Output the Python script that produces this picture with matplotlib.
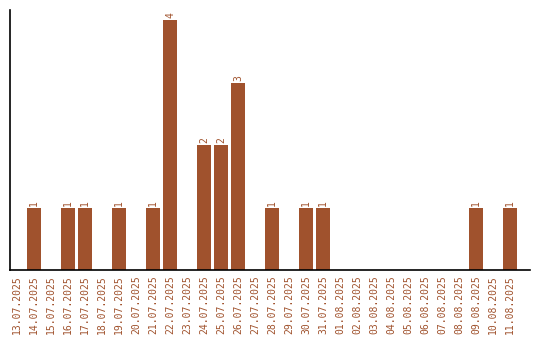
import matplotlib
matplotlib.use("Agg")
import matplotlib.pyplot as plt

dates = ["13.07.2025","14.07.2025","15.07.2025","16.07.2025","17.07.2025","18.07.2025",
         "19.07.2025","20.07.2025","21.07.2025","22.07.2025","23.07.2025","24.07.2025",
         "25.07.2025","26.07.2025","27.07.2025","28.07.2025","29.07.2025","30.07.2025",
         "31.07.2025","01.08.2025","02.08.2025","03.08.2025","04.08.2025","05.08.2025",
         "06.08.2025","07.08.2025","08.08.2025","09.08.2025","10.08.2025","11.08.2025"]
counts = [0,1,0,1,1,0,1,0,1,4,0,2,2,3,0,1,0,1,1,0,0,0,0,0,0,0,0,1,0,1]

color = "#A0522D"
fig = plt.figure(figsize=(5.4, 3.4), dpi=100)
ax = fig.add_axes([10/540, 70/340, 520/540, 260/340])
x = list(range(len(dates)))
bars = ax.bar(x, counts, width=14/17, color=color)
for xi, c in zip(x, counts):
    if c > 0:
        ax.text(xi, c + 0.03, str(c), rotation=90, ha="center", va="bottom",
                color=color, fontsize=7, family="DejaVu Sans Mono")
ax.set_xlim(-7/17 - 0.0, (530 - 17) / 17)
ax.set_ylim(0, 260 / 62.5)
ax.set_xticks(x)
ax.set_xticklabels(dates, rotation=90, color=color, fontsize=7, family="DejaVu Sans Mono")
ax.set_yticks([])
ax.tick_params(axis="x", length=0, pad=4)
ax.spines["top"].set_visible(False)
ax.spines["right"].set_visible(False)
ax.spines["left"].set_linewidth(1.2)
ax.spines["bottom"].set_linewidth(1.2)
fig.savefig("out.png", dpi=100)
